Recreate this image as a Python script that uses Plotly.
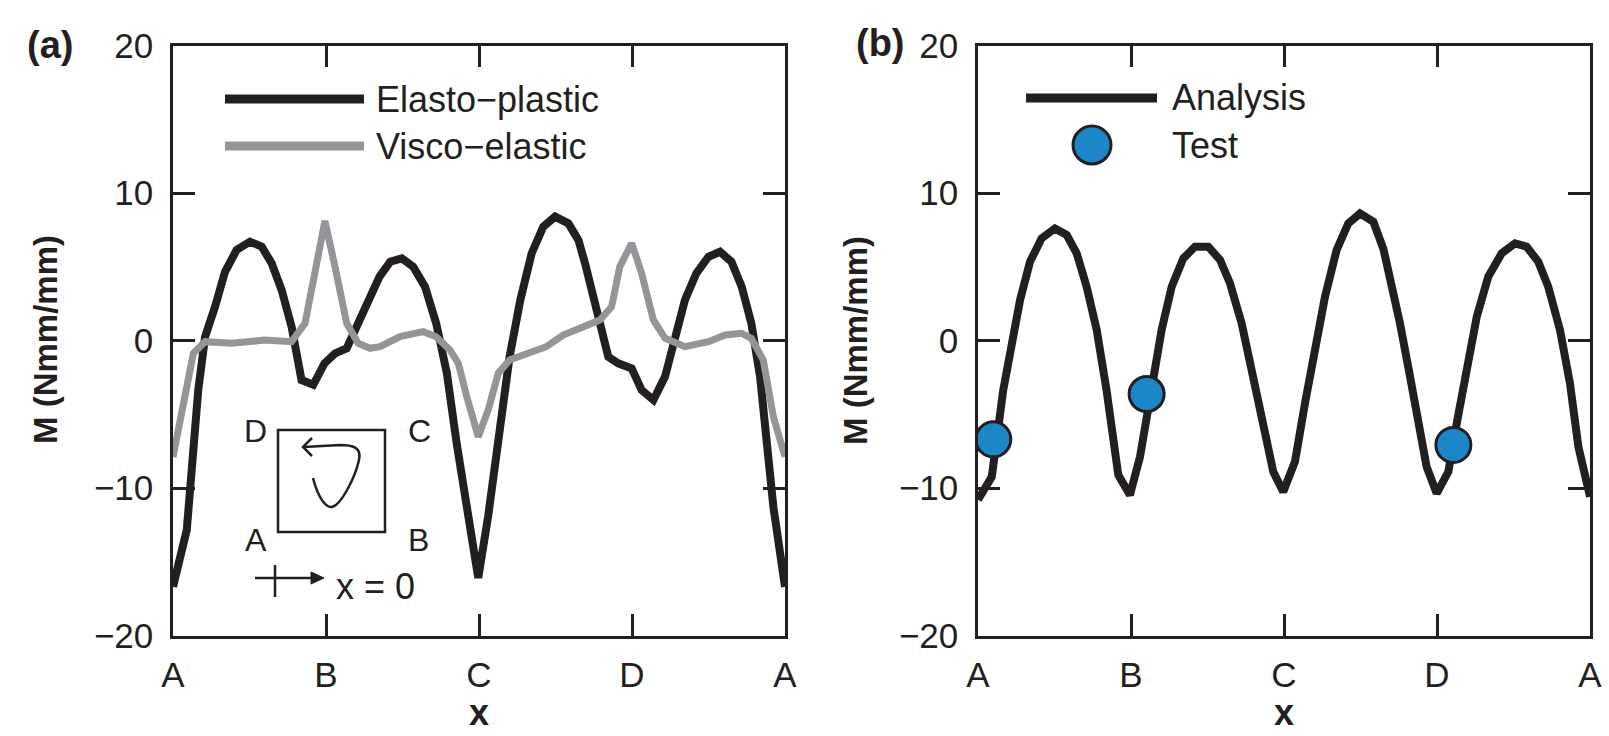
import plotly.graph_objects as go

# ---------------- data ----------------
tick_labels = ["A", "B", "C", "D", "A"]
tick_pos = [0, 1, 2, 3, 4]

elasto_x = [0, 0.09, 0.165, 0.21, 0.275, 0.34, 0.416, 0.503, 0.58, 0.645,
            0.71, 0.775, 0.84, 0.917, 0.99, 1.06, 1.135, 1.21, 1.29, 1.35,
            1.42, 1.495, 1.57, 1.647, 1.72, 1.79, 1.854, 1.92, 1.995, 2.06,
            2.126, 2.2, 2.27, 2.344, 2.42, 2.497, 2.584, 2.65, 2.693, 2.747,
            2.80, 2.845, 2.91, 2.998, 3.063, 3.14, 3.216, 3.28, 3.346, 3.42,
            3.5, 3.575, 3.65, 3.717, 3.78, 3.837, 3.88, 3.924, 4.0]
elasto_y = [-16.7, -12.85, -3.36, 0.26, 2.3, 4.66, 6.14, 6.7, 6.36, 5.23,
            3.42, 0.94, -2.68, -3.0, -1.55, -0.87, -0.53, 1.17, 2.9, 4.33,
            5.34, 5.57, 5.0, 3.65, 1.17, -2.22, -6.97, -11.27, -16.1, -11.9,
            -6.75, -1.1, 2.75, 5.9, 7.72, 8.4, 7.94, 6.8, 5.23, 2.97,
            0.71, -1.1, -1.55, -1.89, -3.36, -4.03, -2.45, 0.26, 2.75, 4.55,
            5.68, 6.02, 5.34, 3.65, 1.17, -2.45, -6.75, -11.27, -16.7]

visco_x = [0, 0.067, 0.133, 0.21, 0.383, 0.6, 0.775, 0.863, 0.928, 0.993,
           1.059, 1.135, 1.21, 1.288, 1.353, 1.484, 1.636, 1.72, 1.81, 1.865,
           1.92, 1.995, 2.06, 2.126, 2.2, 2.333, 2.44, 2.55, 2.627, 2.714,
           2.79, 2.867, 2.92, 2.998, 3.063, 3.14, 3.216, 3.346, 3.5, 3.608,
           3.717, 3.78, 3.858, 3.924, 4.0]
visco_y = [-7.9, -4.49, -0.87, -0.08, -0.19, 0.03, -0.08, 1.17, 4.55, 8.1,
           5.0, 1.17, -0.19, -0.53, -0.42, 0.26, 0.6, 0.26, -0.64, -1.55,
           -3.81, -6.52, -4.71, -2.22, -1.32, -0.87, -0.42, 0.37, 0.71, 1.05,
           1.39, 2.29, 5.0, 6.59, 4.55, 1.39, 0.15, -0.42, -0.08, 0.37,
           0.49, 0.15, -1.32, -5.17, -7.88]

analysis_x = [0, 0.09, 0.165, 0.22, 0.275, 0.34, 0.416, 0.503, 0.58, 0.645,
              0.71, 0.776, 0.84, 0.917, 0.993, 1.059, 1.135, 1.2, 1.266, 1.342,
              1.418, 1.505, 1.582, 1.647, 1.723, 1.789, 1.865, 1.93, 1.995, 2.072,
              2.137, 2.203, 2.268, 2.344, 2.42, 2.497, 2.584, 2.65, 2.704, 2.758,
              2.824, 2.878, 2.932, 2.998, 3.074, 3.129, 3.194, 3.26, 3.335, 3.423,
              3.51, 3.586, 3.662, 3.727, 3.804, 3.869, 3.924, 4.0]
analysis_y = [-10.8, -9.24, -3.36, 0.03, 2.75, 5.34, 6.93, 7.6, 7.15, 5.91,
              3.65, 0.71, -3.36, -9.12, -10.47, -7.88, -2.9, 0.71, 3.65, 5.57,
              6.36, 6.36, 5.46, 3.88, 1.17, -2.0, -5.61, -8.9, -10.25, -8.2,
              -4.26, -0.42, 2.97, 6.14, 7.94, 8.62, 8.05, 6.2, 3.88, 1.17,
              -2.45, -5.61, -8.56, -10.36, -8.9, -5.61, -1.77, 1.62, 4.33, 5.91,
              6.59, 6.36, 5.34, 3.65, 0.71, -2.9, -7.2, -10.59]

test_x = [0.1, 1.102, 3.107]
test_y = [-6.7, -3.63, -7.08]

# ---------------- style ----------------
W, H = 1609, 736
INK = "#231F20"
GREY = "#939598"
BLUE = "#1B87C9"
FONT = "Liberation Sans, Arial, Helvetica, sans-serif"


def px(x):
    return x / W


def py(y):
    return 1 - y / H


fig = go.Figure()
fig.add_trace(go.Scatter(x=elasto_x, y=elasto_y, mode="lines",
                         line=dict(color=INK, width=8), xaxis="x", yaxis="y",
                         showlegend=False))
fig.add_trace(go.Scatter(x=visco_x, y=visco_y, mode="lines",
                         line=dict(color=GREY, width=7), xaxis="x", yaxis="y",
                         showlegend=False))
fig.add_trace(go.Scatter(x=analysis_x, y=analysis_y, mode="lines",
                         line=dict(color=INK, width=8), xaxis="x2", yaxis="y2",
                         showlegend=False))
fig.add_trace(go.Scatter(x=test_x, y=test_y, mode="markers",
                         marker=dict(color=BLUE, size=35, line=dict(color=INK, width=3)),
                         xaxis="x2", yaxis="y2", showlegend=False))

ydom = [py(635.5), py(45.5)]
xdom1 = [px(173), px(785)]
xdom2 = [px(978), px(1590)]

xax = dict(range=[0, 4], tickvals=tick_pos, ticktext=tick_labels,
           ticks="inside", ticklen=22, tickwidth=2.5, tickcolor=INK,
           showline=True, linewidth=2.5, linecolor=INK, mirror="ticks",
           showgrid=False, zeroline=False, ticklabelstandoff=7,
           automargin=False,
           tickfont=dict(family=FONT, size=35, color=INK))
yax = dict(range=[-20, 20], tickvals=[-20, -10, 0, 10, 20],
           ticks="inside", ticklen=22, tickwidth=2.5, tickcolor=INK,
           showline=True, linewidth=2.5, linecolor=INK, mirror="ticks",
           showgrid=False, zeroline=False, ticklabelstandoff=10,
           automargin=False,
           tickfont=dict(family=FONT, size=35, color=INK), domain=ydom)

fig.update_layout(
    width=W, height=H, margin=dict(l=0, r=0, t=0, b=0, pad=0),
    paper_bgcolor="white", plot_bgcolor="white", showlegend=False,
    xaxis=dict(xax, domain=xdom1, anchor="y"),
    yaxis=dict(yax, anchor="x"),
    xaxis2=dict(xax, domain=xdom2, anchor="y2"),
    yaxis2=dict(yax, anchor="x2"),
)

ann = []
shapes = []


def text(x, y, s, size, bold=False, xanchor="center", angle=0):
    ann.append(dict(x=px(x), y=py(y), xref="paper", yref="paper", text=s,
                    showarrow=False, xanchor=xanchor, yanchor="middle",
                    textangle=angle,
                    font=dict(family=FONT, size=size, color=INK,
                              weight="bold" if bold else "normal")))


# panel labels and axis titles
text(50, 45, "(a)", 38, bold=True)
text(880, 43, "(b)", 38, bold=True)
text(46, 340, "M (Nmm/mm)", 33, bold=True, angle=-90)
text(856, 340, "M (Nmm/mm)", 33, bold=True, angle=-90)
for cx in ((173 + 785) / 2, (978 + 1590) / 2):
    text(cx, 712, "x", 36, bold=True)

# legend (a)
shapes.append(dict(type="line", xref="paper", yref="paper", x0=px(225), x1=px(364),
                   y0=py(99), y1=py(99), line=dict(color=INK, width=9)))
shapes.append(dict(type="line", xref="paper", yref="paper", x0=px(225), x1=px(364),
                   y0=py(146), y1=py(146), line=dict(color=GREY, width=9)))
text(374, 99, "Elasto\u2212plastic", 36, xanchor="left")
text(374, 146, "Visco\u2212elastic", 36, xanchor="left")

# legend (b)
shapes.append(dict(type="line", xref="paper", yref="paper", x0=px(1026), x1=px(1157),
                   y0=py(98), y1=py(98), line=dict(color=INK, width=9)))
shapes.append(dict(type="circle", xref="paper", yref="paper",
                   x0=px(1073), x1=px(1111), y0=py(126), y1=py(164),
                   fillcolor=BLUE, line=dict(color=INK, width=3)))
text(1170, 98, "Analysis", 36, xanchor="left")
text(1170, 145, "Test", 36, xanchor="left")

# inset sketch in (a)
shapes.append(dict(type="rect", xref="paper", yref="paper",
                   x0=px(278), x1=px(385), y0=py(532), y1=py(430),
                   line=dict(color=INK, width=2.5)))
text(256, 431, "D", 32)
text(419, 431, "C", 32)
text(256, 540, "A", 32)
text(418, 540, "B", 32)


def path(pts_cmds):
    out = []
    for c in pts_cmds:
        if isinstance(c, str):
            out.append(c)
        else:
            out.append(f"{px(c[0]):.5f},{py(c[1]):.5f}")
    return " ".join(out)


curve = path(["M", (313, 478), "C", (318, 498), (326, 508), (332, 507),
              "C", (341, 505), (355, 478), (359, 460),
              "C", (362, 447), (352, 445), (340, 445), "L", (304, 447)])
shapes.append(dict(type="path", xref="paper", yref="paper", path=curve,
                   line=dict(color=INK, width=2.5)))
head = path(["M", (312, 438), "L", (303, 447), "L", (312, 456)])
shapes.append(dict(type="path", xref="paper", yref="paper", path=head,
                   line=dict(color=INK, width=2.5)))

# x = 0 marker
shapes.append(dict(type="line", xref="paper", yref="paper", x0=px(255), x1=px(314),
                   y0=py(578), y1=py(578), line=dict(color=INK, width=2.5)))
shapes.append(dict(type="line", xref="paper", yref="paper", x0=px(275), x1=px(275),
                   y0=py(565), y1=py(597), line=dict(color=INK, width=2.5)))
tri = path(["M", (311, 572), "L", (324, 578), "L", (311, 584), "Z"])
shapes.append(dict(type="path", xref="paper", yref="paper", path=tri,
                   fillcolor=INK, line=dict(color=INK, width=1)))
text(334, 586, "x = 0", 36, xanchor="left")

fig.update_layout(annotations=ann, shapes=shapes)
fig.write_html("out.html")
